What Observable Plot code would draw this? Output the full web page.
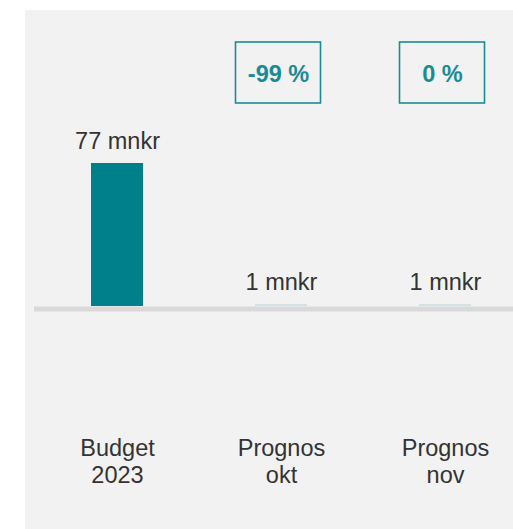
<!DOCTYPE html>
<html>
<head>
<meta charset="utf-8">
<script src="https://cdn.jsdelivr.net/npm/d3@7"></script>
<script src="https://cdn.jsdelivr.net/npm/@observablehq/plot@0.6"></script>
<style>
  html, body { margin: 0; padding: 0; background: #ffffff; overflow: hidden; }
  #chart { padding-left: 25px; padding-top: 10px; width: 488px; height: 519px; }
  #chart svg { display: block; }
</style>
</head>
<body>
<div id="chart"></div>
<script>
// Data
const categories = ["Budget 2023", "Prognos okt", "Prognos nov"];
const categoryLabels = ["Budget\n2023", "Prognos\nokt", "Prognos\nnov"];
const values = [77, 1, 1];
const valueLabels = ["77 mnkr", "1 mnkr", "1 mnkr"];
const changeCategories = ["Prognos okt", "Prognos nov"];
const changeLabels = ["-99 %", "0 %"];

const rows = categories.map((c, i) => ({category: c, label: categoryLabels[i], value: values[i], valueLabel: valueLabels[i], main: i === 0}));
const changes = changeCategories.map((c, i) => ({category: c, text: changeLabels[i]}));

const teal = "#00808a";
const boxTeal = "#1a8b94";
const textColor = "#333333";
const font = "Liberation Sans, Arial, Helvetica, sans-serif";

const plot = Plot.plot({
  width: 488,
  height: 519,
  marginLeft: 9,
  marginRight: 0,
  marginTop: 153,
  marginBottom: 223,
  style: {background: "#f2f2f2", fontFamily: font, color: textColor},
  x: {domain: categories, paddingInner: 0.6844, paddingOuter: 0.296, align: 0.574, axis: null},
  y: {domain: [0, 77], axis: null},
  marks: [
    Plot.barY(rows, {x: "category", y: "value", fill: teal, fillOpacity: d => d.main ? 1 : 0.15}),
    Plot.ruleY([0], {stroke: "#d9d9d9", strokeWidth: 5, dy: 2.5}),
    Plot.text(rows, {x: "category", y: "value", text: "valueLabel", dy: -22, fontSize: 23.5, fill: textColor, lineAnchor: "middle"}),
    Plot.text(rows, {x: "category", text: "label", frameAnchor: "bottom", lineAnchor: "top", dy: 130, fontSize: 23.5, lineHeight: 1.15, fill: textColor}),
    Plot.rect(changes, {x: "category", insetLeft: -16.5, insetRight: -16.5, insetTop: -121, insetBottom: 203, dx: -3, fill: "none", stroke: boxTeal, strokeWidth: 1.6, ariaLabel: "box"}),
    Plot.text(changes, {x: "category", text: "text", frameAnchor: "top", dy: -89, dx: -3, fontSize: 23.5, fontWeight: "bold", fill: boxTeal, lineAnchor: "middle"})
  ]
});

// hand-drawn look for the change boxes
const svgSel = d3.select(plot);
svgSel.insert("defs", ":first-child").html(
  '<filter id="rough" filterUnits="userSpaceOnUse" x="0" y="0" width="488" height="519">' +
  '<feTurbulence type="fractalNoise" baseFrequency="0.012" numOctaves="1" seed="7" result="noise"/>' +
  '<feDisplacementMap in="SourceGraphic" in2="noise" scale="5" xChannelSelector="R" yChannelSelector="G"/>' +
  '</filter>'
);
svgSel.selectAll("g[aria-label='box']").attr("filter", "url(#rough)");

document.getElementById("chart").appendChild(plot);
</script>
</body>
</html>
